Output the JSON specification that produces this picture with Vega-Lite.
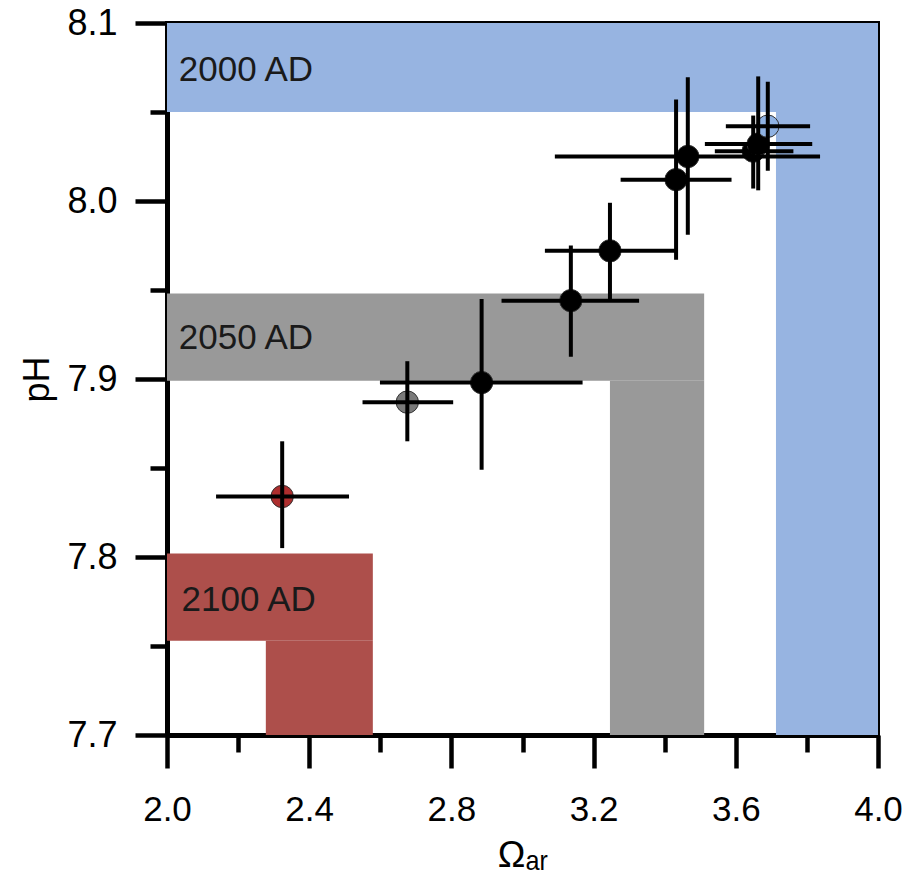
{
  "$schema": "https://vega.github.io/schema/vega-lite/v6.json",
  "width": 711,
  "height": 712,
  "autosize": {"type": "none"},
  "padding": {"left": 167, "top": 23, "right": 35, "bottom": 144},
  "background": "white",
  "config": {
    "view": {"stroke": "black", "strokeWidth": 4},
    "font": "Liberation Sans",
    "axis": {
      "grid": false,
      "domainColor": "black",
      "domainWidth": 5,
      "tickColor": "black",
      "tickWidth": 4.5,
      "labelColor": "black",
      "titleColor": "black",
      "titleFontWeight": "normal",
      "labelFont": "Liberation Sans",
      "titleFont": "Liberation Sans"
    }
  },
  "datasets": {
    "bands": [
      {"era": "2000 AD", "x1": 2.0, "x2": 4.0, "y1": 8.05, "y2": 8.1},
      {"era": "2000 AD", "x1": 3.713, "x2": 4.0, "y1": 7.7, "y2": 8.05},
      {"era": "2050 AD", "x1": 2.0, "x2": 3.511, "y1": 7.899, "y2": 7.948},
      {"era": "2050 AD", "x1": 3.246, "x2": 3.511, "y1": 7.7, "y2": 7.899},
      {"era": "2100 AD", "x1": 2.0, "x2": 2.579, "y1": 7.753, "y2": 7.802},
      {"era": "2100 AD", "x1": 2.278, "x2": 2.579, "y1": 7.7, "y2": 7.753}
    ],
    "labels": [
      {"label": "2000 AD", "x": 2.033, "y": 8.0736},
      {"label": "2050 AD", "x": 2.033, "y": 7.923},
      {"label": "2100 AD", "x": 2.041, "y": 7.776}
    ],
    "points": [
      {"kind": "2100", "x": 2.324, "y": 7.834, "xlo": 2.138, "xhi": 2.512, "ylo": 7.805, "yhi": 7.865},
      {"kind": "2050", "x": 2.676, "y": 7.887, "xlo": 2.55, "xhi": 2.805, "ylo": 7.865, "yhi": 7.91},
      {"kind": "obs", "x": 2.885, "y": 7.898, "xlo": 2.599, "xhi": 3.169, "ylo": 7.849, "yhi": 7.945},
      {"kind": "obs", "x": 3.136, "y": 7.944, "xlo": 2.941, "xhi": 3.328, "ylo": 7.9125, "yhi": 7.975},
      {"kind": "obs", "x": 3.246, "y": 7.972, "xlo": 3.063, "xhi": 3.432, "ylo": 7.944, "yhi": 7.999},
      {"kind": "obs", "x": 3.432, "y": 8.012, "xlo": 3.276, "xhi": 3.588, "ylo": 7.967, "yhi": 8.057},
      {"kind": "obs", "x": 3.465, "y": 8.025, "xlo": 3.091, "xhi": 3.837, "ylo": 7.981, "yhi": 8.0695},
      {"kind": "obs", "x": 3.649, "y": 8.028, "xlo": 3.541, "xhi": 3.762, "ylo": 8.007, "yhi": 8.048},
      {"kind": "obs", "x": 3.663, "y": 8.032, "xlo": 3.513, "xhi": 3.815, "ylo": 8.006, "yhi": 8.07},
      {"kind": "2000", "x": 3.69, "y": 8.042, "xlo": 3.572, "xhi": 3.809, "ylo": 8.017, "yhi": 8.067}
    ]
  },
  "layer": [
    {
      "data": {"name": "bands"},
      "mark": {"type": "rect"},
      "encoding": {
        "x": {
          "field": "x1", "type": "quantitative",
          "scale": {"domain": [2, 4], "nice": false, "zero": false},
          "axis": {
            "title": "Ωₐᵣ",
            "titleFontSize": 37,
            "titlePadding": 10,
            "values": [2.0, 2.2, 2.4, 2.6, 2.8, 3.0, 3.2, 3.4, 3.6, 3.8, 4.0],
            "labelExpr": "abs((datum.value-2)/0.4 - round((datum.value-2)/0.4)) < 0.01 ? format(datum.value, '.1f') : ''",
            "tickSize": {"condition": {"test": "abs((datum.value-2)/0.4 - round((datum.value-2)/0.4)) < 0.01", "value": 33}, "value": 17},
            "tickWidth": 4.5,
            "labelFontSize": 35,
            "labelPadding": 24,
            "labelFlush": false,
            "labelOverlap": false
          }
        },
        "x2": {"field": "x2"},
        "y": {
          "field": "y1", "type": "quantitative",
          "scale": {"domain": [7.7, 8.1], "nice": false, "zero": false},
          "axis": {
            "title": "pH",
            "titleFontSize": 36,
            "titlePadding": 10,
            "values": [7.7, 7.75, 7.8, 7.85, 7.9, 7.95, 8.0, 8.05, 8.1],
            "labelExpr": "abs((datum.value-7.7)/0.1 - round((datum.value-7.7)/0.1)) < 0.01 ? format(datum.value, '.1f') : ''",
            "tickSize": {"condition": {"test": "abs((datum.value-7.7)/0.1 - round((datum.value-7.7)/0.1)) < 0.01", "value": 32}, "value": 17},
            "tickWidth": 4.5,
            "labelFontSize": 36,
            "labelPadding": 18,
            "labelFlush": false,
            "labelOverlap": false
          }
        },
        "y2": {"field": "y2"},
        "fill": {
          "field": "era", "type": "nominal",
          "scale": {"domain": ["2000 AD", "2050 AD", "2100 AD"], "range": ["#97b4e1", "#999999", "#ad4f4b"]},
          "legend": null
        }
      }
    },
    {
      "data": {"name": "labels"},
      "mark": {"type": "text", "align": "left", "baseline": "middle", "fontSize": 35, "font": "Liberation Sans", "color": "#1a1a1a"},
      "encoding": {
        "x": {"field": "x", "type": "quantitative"},
        "y": {"field": "y", "type": "quantitative"},
        "text": {"field": "label"}
      }
    },
    {
      "data": {"name": "points"},
      "mark": {"type": "circle", "size": 500, "opacity": 1, "stroke": "#333333", "strokeWidth": 1},
      "encoding": {
        "x": {"field": "x", "type": "quantitative"},
        "y": {"field": "y", "type": "quantitative"},
        "color": {
          "field": "kind", "type": "nominal",
          "scale": {"domain": ["obs", "2000", "2050", "2100"], "range": ["#000000", "#8fb2e3", "#7a7a7a", "#ad2e2e"]},
          "legend": null
        }
      }
    },
    {
      "data": {"name": "points"},
      "mark": {"type": "rule", "color": "black", "strokeWidth": 4},
      "encoding": {
        "x": {"field": "xlo", "type": "quantitative"},
        "x2": {"field": "xhi"},
        "y": {"field": "y", "type": "quantitative"}
      }
    },
    {
      "data": {"name": "points"},
      "mark": {"type": "rule", "color": "black", "strokeWidth": 4},
      "encoding": {
        "x": {"field": "x", "type": "quantitative"},
        "y": {"field": "ylo", "type": "quantitative"},
        "y2": {"field": "yhi"}
      }
    }
  ]
}
